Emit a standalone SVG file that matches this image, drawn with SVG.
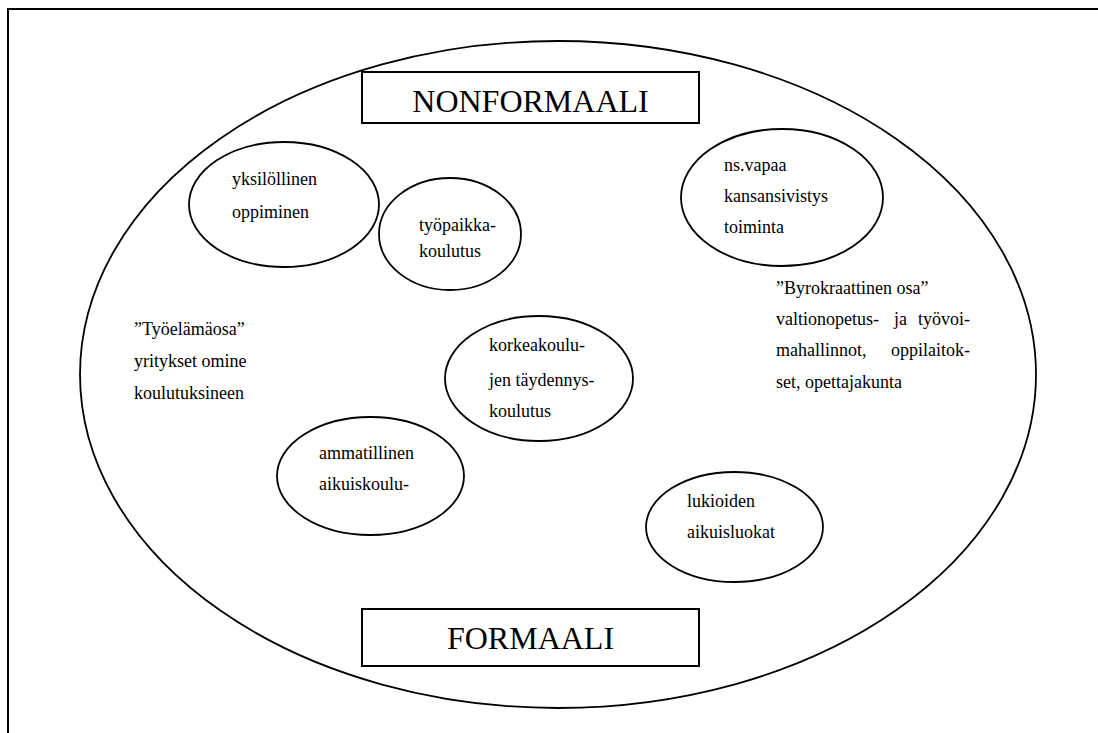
<svg xmlns="http://www.w3.org/2000/svg" width="1098" height="733" viewBox="0 0 1098 733">
<style>
.ln{fill:none;stroke:#000;stroke-width:2}
.el{fill:none;stroke:#000;stroke-width:1.8}
.t{font-family:"Liberation Serif","Times New Roman",serif;font-size:18px;fill:#000}
.big{font-family:"Liberation Serif","Times New Roman",serif;font-size:32px;fill:#000;text-anchor:middle}
</style>
<rect width="1098" height="733" fill="#fff"/>
<path class="ln" d="M8,733 V9 H1098"/>
<g id="outer"><ellipse class="el" cx="558" cy="374.5" rx="478" ry="333.5"/></g>
<g id="nonformaali">
<rect class="ln" x="362" y="72" width="337" height="51" fill="#fff"/>
<text class="big" x="530.5" y="112">NONFORMAALI</text>
</g>
<g id="formaali">
<rect class="ln" x="362" y="609" width="337" height="57" fill="#fff"/>
<text class="big" x="530.5" y="649">FORMAALI</text>
</g>
<g id="yksilollinen">
<ellipse class="el" cx="284" cy="204.5" rx="95" ry="62.5"/>
<text class="t" x="232" y="185">yksilöllinen</text>
<text class="t" x="232" y="218">oppiminen</text>
</g>
<g id="tyopaikka">
<ellipse class="el" cx="450" cy="234" rx="71" ry="56"/>
<text class="t" x="419" y="231">työpaikka-</text>
<text class="t" x="419" y="257">koulutus</text>
</g>
<g id="vapaa">
<ellipse class="el" cx="782" cy="197.5" rx="101" ry="68.5"/>
<text class="t" x="724" y="171">ns.vapaa</text>
<text class="t" x="724" y="202">kansansivistys</text>
<text class="t" x="724" y="233">toiminta</text>
</g>
<g id="tyoelama">
<text class="t" x="134" y="335">”Työelämäosa”</text>
<text class="t" x="134" y="367">yritykset omine</text>
<text class="t" x="134" y="399">koulutuksineen</text>
</g>
<g id="byrokraattinen">
<text class="t" x="776" y="294">”Byrokraattinen osa”</text>
<text class="t" x="776" y="325">valtionopetus-</text>
<text class="t" x="894" y="325">ja</text>
<text class="t" x="970" y="325" text-anchor="end">työvoi-</text>
<text class="t" x="776" y="356">mahallinnot,</text>
<text class="t" x="970" y="356" text-anchor="end">oppilaitok-</text>
<text class="t" x="776" y="388">set, opettajakunta</text>
</g>
<g id="korkeakoulu">
<ellipse class="el" cx="539" cy="378.5" rx="94" ry="62.5"/>
<text class="t" x="489" y="351">korkeakoulu-</text>
<text class="t" x="489" y="386">jen täydennys-</text>
<text class="t" x="489" y="417">koulutus</text>
</g>
<g id="ammatillinen">
<ellipse class="el" cx="370.5" cy="476" rx="93.5" ry="59"/>
<text class="t" x="319" y="459">ammatillinen</text>
<text class="t" x="319" y="490">aikuiskoulu-</text>
</g>
<g id="lukiot">
<ellipse class="el" cx="734.5" cy="527" rx="88.5" ry="55"/>
<text class="t" x="687" y="507">lukioiden</text>
<text class="t" x="687" y="538">aikuisluokat</text>
</g>
<g id="connectors"/>
</svg>
